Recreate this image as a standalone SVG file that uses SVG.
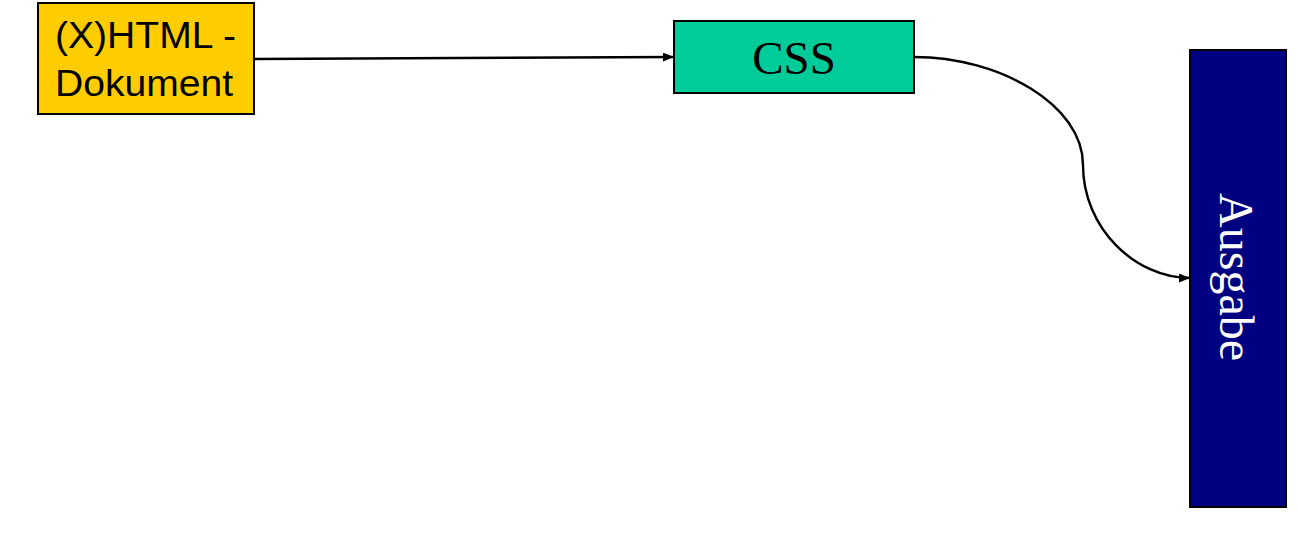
<svg xmlns="http://www.w3.org/2000/svg" width="1298" height="544" viewBox="0 0 1298 544">
<style>
.box{stroke:#000;stroke-width:2}
.sans{font-family:"Liberation Sans",Arial,sans-serif;fill:#000}
.serif{font-family:"Liberation Serif","Times New Roman",serif}
.conn{fill:none;stroke:#000;stroke-width:2.4}
</style>
<defs>
<marker id="arr" markerWidth="11" markerHeight="9" refX="11" refY="4.5" orient="auto" markerUnits="userSpaceOnUse">
<path d="M0,0 L11,4.5 L0,9 Z" fill="#000"/>
</marker>
</defs>
<rect width="1298" height="544" fill="#fff"/>
<g id="connectors">
<path class="conn" d="M254,59 L674,57" marker-end="url(#arr)"/>
<path class="conn" d="M914,57 C1000,57 1083,105 1083,165 C1083,228 1135,278 1190,278" marker-end="url(#arr)"/>
</g>
<g id="node-html">
<rect class="box" x="38" y="3" width="216" height="111" fill="#FFCC00"/>
<text class="sans" x="55" y="48" font-size="37" textLength="181" lengthAdjust="spacingAndGlyphs">(X)HTML -</text>
<text class="sans" x="55" y="96" font-size="37" textLength="178" lengthAdjust="spacingAndGlyphs">Dokument</text>
</g>
<g id="node-css">
<rect class="box" x="674" y="21" width="240" height="72" fill="#00CC99"/>
<text class="serif" x="794" y="74" font-size="47" text-anchor="middle" fill="#000">CSS</text>
</g>
<g id="node-ausgabe">
<rect class="box" x="1190" y="50" width="96" height="457" fill="#000080"/>
<text class="serif" transform="translate(1220,277) rotate(90)" x="0" y="0" font-size="48" text-anchor="middle" fill="#fff">Ausgabe</text>
</g>
</svg>
